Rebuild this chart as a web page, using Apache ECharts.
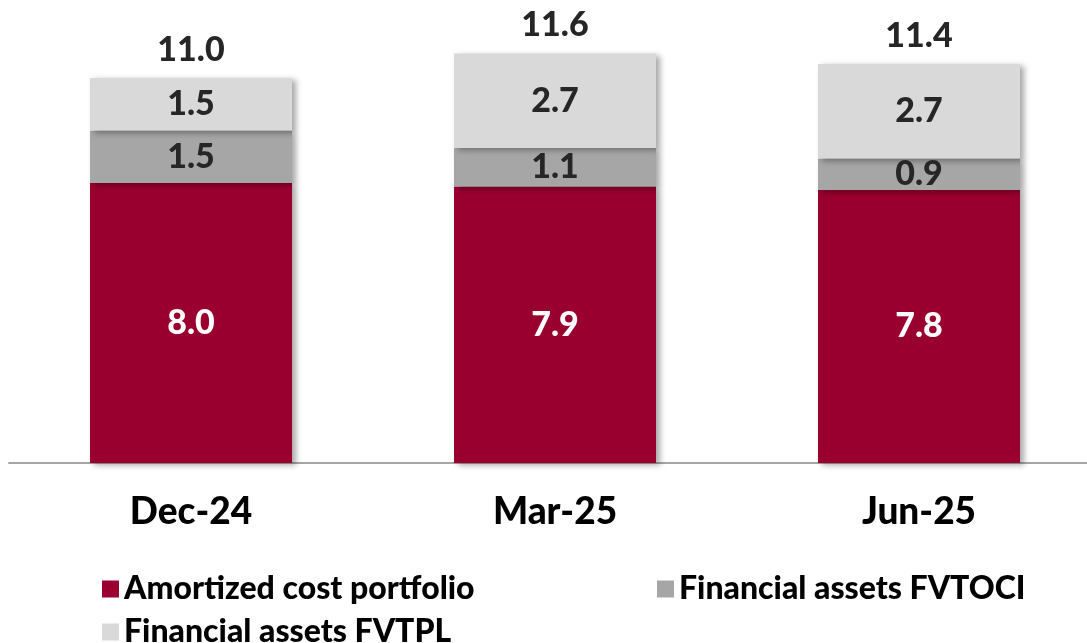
<!DOCTYPE html>
<html>
<head>
<meta charset="utf-8">
<script src="https://cdn.jsdelivr.net/npm/echarts@6/dist/echarts.min.js"></script>
<style>
  html, body { margin: 0; padding: 0; background: #fff; }
  #chart { width: 1087px; height: 643px; }
</style>
</head>
<body>
<div id="chart"></div>
<script>
const categories = ['Dec-24', 'Mar-25', 'Jun-25']
const amortized = [8.0, 7.9, 7.8]
const fvtoci = [1.5, 1.1, 0.9]
const fvtpl = [1.5, 2.7, 2.7]
const totals = ['11.0', '11.6', '11.4']

const font = 'Lato'
const shadow = {
  shadowColor: 'rgba(0,0,0,0.35)',
  shadowBlur: 6,
  shadowOffsetX: 4,
  shadowOffsetY: 2
}

const segLabel = color => ({
  show: true,
  position: 'inside',
  color,
  fontFamily: font,
  fontWeight: 900,
  fontSize: 34,
  formatter: p => p.value.toFixed(1)
})

const legendText = { fontFamily: font, fontWeight: 900, fontSize: 32, color: '#000' }

const chart = echarts.init(document.getElementById('chart'))

chart.setOption({
  animation: false,
  grid: { left: 9, width: 1092, top: 8, bottom: 180, outerBoundsMode: 'none' },
  legend: [
    {
      left: 97, top: 568, itemWidth: 17, itemHeight: 17, itemGap: 10,
      icon: 'rect',
      textStyle: legendText,
      data: ['Amortized cost portfolio']
    },
    {
      left: 652, top: 568, itemWidth: 17, itemHeight: 17,
      icon: 'rect',
      textStyle: legendText,
      data: ['Financial assets FVTOCI']
    },
    {
      left: 97, top: 611, itemWidth: 17, itemHeight: 17,
      icon: 'rect',
      textStyle: legendText,
      data: ['Financial assets FVTPL']
    }
  ],
  xAxis: {
    type: 'category',
    data: categories,
    axisTick: { show: false },
    axisLine: { lineStyle: { color: '#A6A6A6', width: 2 } },
    axisLabel: {
      margin: 31,
      color: '#000',
      fontFamily: font,
      fontWeight: 900,
      fontSize: 37
    }
  },
  yAxis: {
    type: 'value',
    min: 0,
    max: 13,
    show: false,
    splitLine: { show: false }
  },
  series: [
    {
      name: 'Amortized cost portfolio',
      type: 'bar',
      stack: 'total',
      barWidth: 202,
      data: amortized,
      itemStyle: { color: '#990030', ...shadow },
      label: segLabel('#fff')
    },
    {
      name: 'Financial assets FVTOCI',
      type: 'bar',
      stack: 'total',
      data: fvtoci,
      itemStyle: { color: '#A6A6A6', ...shadow },
      label: segLabel('#262626')
    },
    {
      name: 'Financial assets FVTPL',
      type: 'bar',
      stack: 'total',
      data: fvtpl,
      itemStyle: { color: '#D9D9D9', ...shadow },
      label: segLabel('#262626')
    },
    {
      name: 'Total',
      type: 'bar',
      stack: 'total',
      data: [0, 0, 0],
      itemStyle: { color: 'transparent' },
      label: {
        show: true,
        position: 'top',
        distance: 11,
        color: '#262626',
        fontFamily: font,
        fontWeight: 900,
        fontSize: 34,
        formatter: p => totals[p.dataIndex]
      }
    }
  ]
})
</script>
</body>
</html>
